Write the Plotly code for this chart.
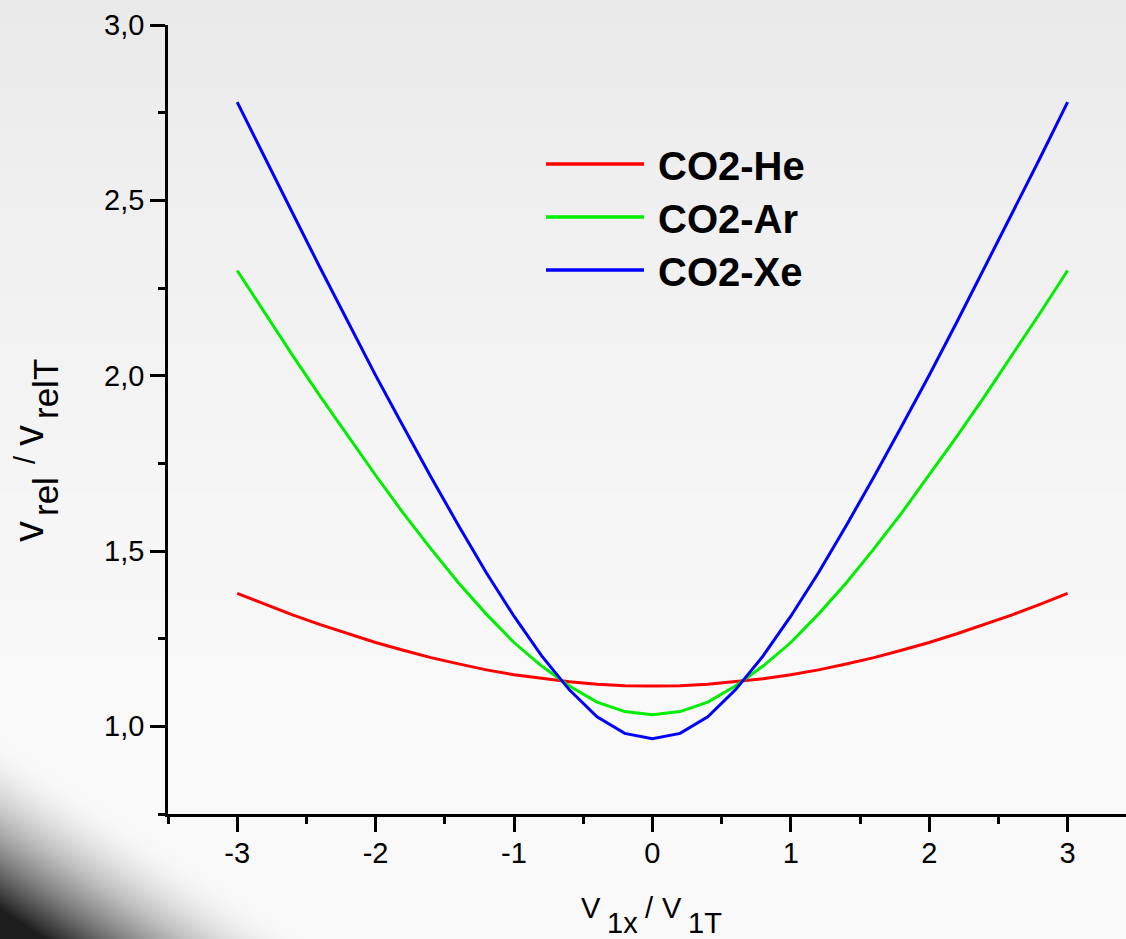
import base64
import struct
import zlib

import numpy as np
import plotly.graph_objects as go

# ---- data -----------------------------------------------------------------
v1x_ratio = [-3.0, -2.8, -2.6, -2.4, -2.2, -2.0, -1.8, -1.6, -1.4, -1.2, -1.0,
             -0.8, -0.6, -0.4, -0.2, 0.0, 0.2, 0.4, 0.6, 0.8, 1.0,
             1.2, 1.4, 1.6, 1.8, 2.0, 2.2, 2.4, 2.6, 2.8, 3.0]

co2_he = [1.379, 1.348, 1.318, 1.290, 1.264, 1.239, 1.217, 1.196, 1.178, 1.161, 1.147,
          1.136, 1.127, 1.120, 1.116, 1.115, 1.116, 1.120, 1.127, 1.136, 1.147,
          1.161, 1.178, 1.196, 1.217, 1.239, 1.264, 1.290, 1.318, 1.348, 1.379]

co2_ar = [2.300, 2.178, 2.058, 1.941, 1.827, 1.716, 1.608, 1.506, 1.409, 1.320, 1.239,
          1.172, 1.115, 1.069, 1.042, 1.033, 1.042, 1.069, 1.115, 1.172, 1.239,
          1.320, 1.409, 1.506, 1.608, 1.716, 1.827, 1.941, 2.058, 2.178, 2.300]

co2_xe = [2.780, 2.620, 2.464, 2.307, 2.153, 2.001, 1.855, 1.711, 1.572, 1.438, 1.314,
          1.201, 1.104, 1.027, 0.980, 0.965, 0.980, 1.027, 1.104, 1.201, 1.314,
          1.438, 1.572, 1.711, 1.855, 2.001, 2.153, 2.307, 2.464, 2.620, 2.780]

series_names = ["CO2-He", "CO2-Ar", "CO2-Xe"]
series_colors = ["#ff0000", "#00ee00", "#0000ff"]

x_ticks = [-3, -2, -1, 0, 1, 2, 3]
x_tick_text = ["-3", "-2", "-1", "0", "1", "2", "3"]
y_ticks = [1.0, 1.5, 2.0, 2.5, 3.0]

# ---- page geometry --------------------------------------------------------
W, H = 1126, 939
M_L, M_R, M_T, M_B = 168, 0, 25, 125
PW, PH = W - M_L - M_R, H - M_T - M_B

FONT = "Liberation Sans, Arial, sans-serif"


def png_data_uri(rgb):
    h, w, _ = rgb.shape
    raw = b"".join(b"\x00" + rgb[i].tobytes() for i in range(h))

    def chunk(tag, data):
        body = tag + data
        return struct.pack(">I", len(data)) + body + struct.pack(">I", zlib.crc32(body) & 0xFFFFFFFF)

    png = (b"\x89PNG\r\n\x1a\n"
           + chunk(b"IHDR", struct.pack(">IIBBBBB", w, h, 8, 2, 0, 0, 0))
           + chunk(b"IDAT", zlib.compress(raw, 9))
           + chunk(b"IEND", b""))
    return "data:image/png;base64," + base64.b64encode(png).decode()


# soft grey page with a dark vignette in the lower-left corner
yy, xx = np.mgrid[0:H, 0:W].astype(float)
grey = 234.0 + 15.0 * np.clip(yy / 650.0, 0, 1) ** 0.8
u = (xx * 0.55 + (H - yy) * 0.835)  # distance from the lower-left corner, diagonal
shade = np.clip((165.0 - u) / 140.0, 0, 1) ** 1.7
grey = grey * (1 - shade) + 30.0 * shade
img = np.repeat(np.clip(grey, 0, 255).astype(np.uint8)[:, :, None], 3, axis=2)
bg_uri = png_data_uri(img)

fig = go.Figure()

for name, ys, col in zip(series_names, [co2_he, co2_ar, co2_xe], series_colors):
    fig.add_trace(go.Scatter(x=v1x_ratio, y=ys, mode="lines", name=name,
                             line=dict(color=col, width=3), showlegend=False))

fig.update_layout(
    width=W, height=H,
    margin=dict(l=M_L, r=M_R, t=M_T, b=M_B, pad=0),
    paper_bgcolor="#f6f6f6",
    plot_bgcolor="rgba(0,0,0,0)",
    separators=", ",
    font=dict(family=FONT, color="#000000", size=29),
    images=[dict(source=bg_uri, xref="paper", yref="paper",
                 x=-M_L / PW, y=1 + M_T / PH, sizex=W / PW, sizey=H / PH,
                 xanchor="left", yanchor="top", sizing="stretch", layer="below")],
)

axis_common = dict(showgrid=False, zeroline=False, showline=True, linecolor="#000000",
                   linewidth=2.5, ticks="outside", tickcolor="#000000", tickwidth=2.5,
                   ticklen=15, tickfont=dict(family=FONT, size=29, color="#000000"),
                   mirror=False)

fig.update_xaxes(range=[-3.5, -3.5 + PW / 138.4], tickvals=x_ticks, ticktext=x_tick_text,
                 minor=dict(dtick=0.5, tick0=-3.5, ticks="outside", ticklen=7,
                            tickwidth=2.5, tickcolor="#000000"),
                 ticklabelstandoff=-4, **axis_common)
fig.update_yaxes(range=[0.75, 3.0], tickvals=y_ticks, tickformat=".1f",
                 minor=dict(dtick=0.25, tick0=0.75, ticks="outside", ticklen=7,
                            tickwidth=2.5, tickcolor="#000000"),
                 ticklabelstandoff=0, **axis_common)

# legend: coloured line sample followed by bold label
leg_y_px = [164, 217, 270]
for name, col, ypx in zip(series_names, series_colors, leg_y_px):
    yp = 1 - (ypx - M_T) / PH
    fig.add_shape(type="line", xref="paper", yref="paper",
                  x0=(546 - M_L) / PW, x1=(644 - M_L) / PW, y0=yp, y1=yp,
                  line=dict(color=col, width=3.5))
    fig.add_annotation(text="<b>%s</b>" % name, xref="paper", yref="paper",
                       x=(656 - M_L) / PW, y=1 - (ypx + 2 - M_T) / PH,
                       xanchor="left", yanchor="middle",
                       showarrow=False, font=dict(family=FONT, size=40, color="#000000"))


def label(text, cx, cy, size, angle=0):
    fig.add_annotation(text=text, xref="paper", yref="paper",
                       x=(cx - M_L) / PW, y=1 - (cy - M_T) / PH,
                       xanchor="center", yanchor="middle", textangle=angle,
                       showarrow=False, font=dict(family=FONT, size=size, color="#000000"))


# x-axis title  V_1x / V_1T
label("V", 591, 908, 29)
label("1x", 622, 923, 29)
label("/", 649, 908, 29)
label("V", 672, 908, 29)
label("1T", 705, 923, 29)

# y-axis title  v_rel / v_relT (rotated)
label("v", 28, 532, 42, -90)
label("rel", 45, 497, 35, -90)
label("/", 25, 460, 29, -90)
label("v", 28, 436, 42, -90)
label("relT", 45, 389, 35, -90)

fig.write_html("out.html")
